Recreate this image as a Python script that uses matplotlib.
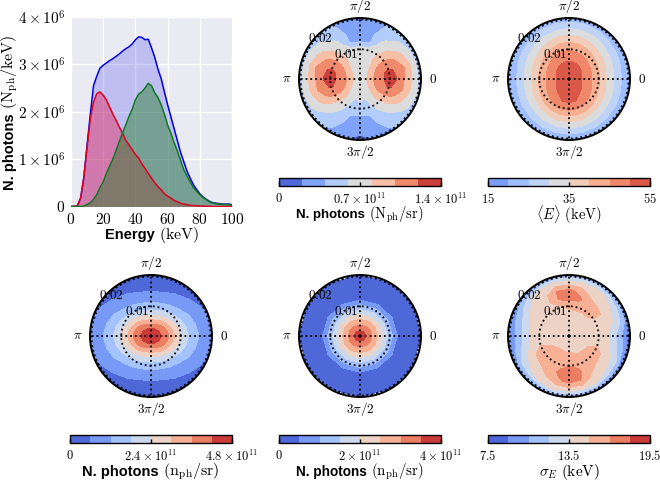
import numpy as np
import matplotlib
matplotlib.use("Agg")
import matplotlib.pyplot as plt

plt.rcParams['mathtext.fontset'] = 'cm'
plt.rcParams['font.family'] = ['Liberation Sans', 'DejaVu Sans']

# ---------- spectrum (units of 1e6 N_ph/keV) ----------
energy = [0,2,4,6,8,10,12,14,16,18,20,22,24,26,28,30,32,34,36,38,40,42,44,46,48,50,52,54,56,58,60,62,64,66,68,70,72,74,76,78,80,82,84,86,88,90,92,94,96,98,100]
total = [0,0,.02,.18,.62,1.3,1.95,2.55,2.75,2.92,2.98,3.03,3.08,3.12,3.17,3.22,3.28,3.33,3.37,3.43,3.52,3.58,3.57,3.52,3.53,3.35,3.15,2.9,2.7,2.42,2.15,1.9,1.65,1.4,1.15,.95,.75,.6,.46,.36,.27,.2,.15,.11,.08,.07,.06,.05,.05,.05,.04]
low = [0,0,.02,.18,.62,1.25,1.85,2.2,2.38,2.42,2.35,2.25,2.1,1.95,1.82,1.68,1.55,1.4,1.3,1.2,1.1,1.02,.9,.8,.7,.6,.5,.42,.35,.27,.22,.18,.13,.1,.07,.05,.04,.025,.02,.015,.01,.01,.005,.005,0,0,0,0,0,0,0]
high = [0,0,0,0,.01,.04,.08,.15,.25,.4,.52,.7,.85,1.0,1.18,1.37,1.55,1.72,1.9,2.05,2.25,2.37,2.42,2.5,2.6,2.55,2.4,2.3,2.15,1.95,1.72,1.55,1.35,1.18,.98,.78,.65,.52,.4,.32,.25,.19,.15,.1,.08,.06,.05,.05,.04,.04,.03]

# ---------- polar maps: radius fractions and band-level values ----------
r_frac = [0,.125,.25,.375,.5,.625,.75,.875,1]
rmax = 0.0205

map_a = [  # every 15 deg
[3.5,4.2,5.2,5.9,6.6,5.9,4.8,3.8,2.5],
[3.5,4.0,5.1,5.9,6.2,5.8,5.0,3.8,2.6],
[3.5,3.9,4.8,5.3,5.5,5.1,4.3,3.5,2.5],
[3.5,3.7,4.2,4.6,4.5,4.1,3.6,3.0,2.4],
[3.5,3.5,3.7,3.8,3.6,3.3,2.8,2.4,2.1],
[3.5,3.4,3.4,3.4,3.4,1.9,1.8,1.6,1.3],
[3.5,3.4,3.4,3.4,3.4,1.8,1.6,1.25,.7],
[3.5,3.4,3.4,3.4,3.4,1.9,1.8,1.6,1.3],
[3.5,3.5,3.7,3.8,3.6,3.3,2.8,2.4,2.1],
[3.5,3.7,4.2,4.6,4.5,4.1,3.6,3.0,2.4],
[3.5,3.9,4.8,5.3,5.5,5.1,4.3,3.5,2.5],
[3.5,4.0,5.1,5.9,6.2,5.8,5.0,3.8,2.6],
[3.5,4.2,5.2,5.9,6.6,5.9,4.8,3.8,2.5],
[3.5,4.0,5.1,5.8,6.1,5.6,4.8,3.7,2.7],
[3.5,3.9,4.8,5.2,5.2,4.8,4.1,3.3,2.5],
[3.5,3.7,4.1,4.4,4.1,3.6,3.1,2.6,2.2],
[3.5,3.5,3.6,3.5,3.2,2.8,2.5,2.1,1.8],
[3.5,3.4,3.2,2.9,2.5,2.0,1.7,1.4,1.1],
[3.5,3.3,3.1,3.0,2.5,1.9,1.5,1.2,.6],
[3.5,3.4,3.2,2.9,2.5,2.0,1.7,1.4,1.1],
[3.5,3.5,3.6,3.5,3.2,2.8,2.5,2.1,1.8],
[3.5,3.7,4.1,4.4,4.1,3.6,3.1,2.6,2.2],
[3.5,3.9,4.8,5.2,5.2,4.8,4.1,3.3,2.5],
[3.5,4.0,5.1,5.8,6.1,5.6,4.8,3.7,2.7],
]
map_b_upper = [  # 0..90 deg every 15
[7.6,7.3,6.87,6.0,5.0,3.9,2.9,1.9,1.1],
[7.6,7.31,6.89,6.04,5.06,3.97,2.96,1.95,1.12],
[7.6,7.33,6.95,6.15,5.2,4.14,3.1,2.08,1.18],
[7.6,7.35,7.03,6.3,5.4,4.38,3.3,2.25,1.25],
[7.6,7.38,7.12,6.45,5.6,4.61,3.5,2.43,1.33],
[7.6,7.39,7.18,6.56,5.74,4.78,3.64,2.55,1.38],
[7.6,7.4,7.2,6.6,5.8,4.85,3.7,2.6,1.4],
]
map_b_lower = [  # 15..90 deg below the horizontal
[7.6,7.31,6.9,6.08,5.08,3.96,2.95,1.93,1.09],
[7.6,7.34,6.98,6.28,5.29,4.11,3.06,2.01,1.05],
[7.6,7.38,7.08,6.55,5.58,4.33,3.22,2.12,1.0],
[7.6,7.41,7.19,6.83,5.86,4.54,3.39,2.24,.95],
[7.6,7.44,7.27,7.02,6.07,4.69,3.5,2.32,.91],
[7.6,7.45,7.3,7.1,6.15,4.75,3.55,2.35,.9],
]
map_c_upper = [  # 0..90 deg every 15
[7.9,7.28,6.42,5.06,3.85,2.91,2.16,1.65,1.19],
[7.9,7.25,6.34,4.91,3.71,2.72,2.01,1.53,1.05],
[7.9,7.2,6.14,4.56,3.35,2.44,1.75,1.22,.84],
[7.9,7.12,5.88,4.15,2.94,2.02,1.45,.95,.62],
[7.9,7.06,5.53,3.8,2.62,1.76,1.15,.74,.4],
[7.9,7.0,5.28,3.57,2.38,1.58,.96,.6,.24],
[7.9,7.0,5.21,3.5,2.32,1.47,.92,.56,.2],
]
map_d = [  # every 30 deg
[8,6.6,5.45,3.9,2.4,.85,.4,.2,.1],
[8,6.6,5.4,3.85,2.3,.75,.35,.2,.1],
[8,6.55,5.35,3.75,2.2,.6,.3,.2,.1],
[8,6.5,5.3,3.7,2.15,.55,.3,.2,.1],
[8,6.55,5.35,3.75,2.2,.6,.3,.2,.1],
[8,6.6,5.4,3.85,2.3,.75,.35,.2,.1],
[8,6.6,5.45,3.9,2.4,.85,.4,.2,.1],
[8,6.6,5.4,3.85,2.3,.75,.35,.2,.1],
[8,6.55,5.35,3.75,2.2,.65,.3,.2,.1],
[8,6.5,5.3,3.7,2.2,.6,.3,.2,.1],
[8,6.55,5.35,3.75,2.2,.65,.3,.2,.1],
[8,6.6,5.4,3.85,2.3,.75,.35,.2,.1],
]
map_e = [  # every 15 deg
[4.5,4.5,4.5,4.5,4.5,4.1,3.2,1.85,.7],
[4.5,4.5,4.5,4.5,4.6,4.4,3.9,2.9,1.2],
[4.5,4.5,4.5,4.6,4.8,4.9,4.3,3.4,1.5],
[4.5,4.5,4.5,4.7,5.4,5.2,4.5,3.9,1.9],
[4.5,4.5,4.5,4.7,5.3,5.6,4.7,4.3,2.0],
[4.5,4.5,4.5,4.7,5.4,6.2,5.7,4.4,2.2],
[4.5,4.5,4.5,4.6,5.4,6.4,6.2,4.5,2.3],
[4.5,4.5,4.5,4.6,4.9,6.1,6.1,4.5,2.2],
[4.5,4.5,4.5,4.5,4.7,5.0,4.8,4.2,2.0],
[4.5,4.5,4.5,4.5,4.5,4.5,4.5,3.8,1.8],
[4.5,4.5,4.5,4.5,4.5,4.4,3.9,2.9,1.4],
[4.5,4.5,4.5,4.5,4.5,4.2,3.3,2.3,1.0],
[4.5,4.5,4.5,4.5,4.5,4.1,3.1,2.1,.7],
[4.5,4.5,4.5,4.5,4.8,4.3,3.4,2.4,1.0],
[4.5,4.5,4.7,5.3,5.6,5.0,4.2,3.2,1.3],
[4.5,4.5,4.9,5.6,5.7,5.1,4.7,3.7,1.5],
[4.5,4.5,5.0,5.6,5.5,5.4,5.0,4.2,1.8],
[4.5,4.5,4.9,5.6,5.8,6.2,5.8,4.5,2.0],
[4.5,4.5,4.9,5.5,6.0,6.4,6.2,4.6,2.1],
[4.5,4.5,4.8,5.4,5.8,6.3,6.0,4.5,2.0],
[4.5,4.5,4.7,5.2,5.4,5.3,4.9,4.2,1.7],
[4.5,4.5,4.6,5.2,5.4,5.0,4.5,3.5,1.0],
[4.5,4.5,4.5,5.1,5.3,4.9,4.2,3.1,1.0],
[4.5,4.5,4.5,4.6,4.8,4.4,3.5,2.4,.8],
]

def mirrored(upper, lower):
    return upper + upper[-2::-1] + lower + lower[-2::-1]

map_b = mirrored(map_b_upper, map_b_lower)
map_c = mirrored(map_c_upper, map_c_upper[1:])
maps = [map_a, map_b, map_c, map_d, map_e]
centers = [(360,79),(569,79),(151,336),(360,336),(569,336)]
bands = [7,8,8,8,8]
cmap_lo = [.07,.2,.0625,.0625,.0625]
cmap_hi = [.93,.89,.9375,.9375,.9375]
vmins = [0,15,0,0,7.5]
vmaxs = [1.4,55,4.8,4,19.5]
tick_texts = [[r"$0$",r"$0.7\times10^{11}$",r"$1.4\times10^{11}$"],
              [r"$15$",r"$35$",r"$55$"],
              [r"$0$",r"$2.4\times10^{11}$",r"$4.8\times10^{11}$"],
              [r"$0$",r"$2\times10^{11}$",r"$4\times10^{11}$"],
              [r"$7.5$",r"$13.5$",r"$19.5$"]]
bar_left = [279,488,70,279,488]
bar_top = [178,178,435,435,435]
label_bold = ["N. photons",None,"N. photons","N. photons",None]
label_math = [r"$(\mathrm{N_{ph}/sr})$",r"$\langle E\rangle\ (\mathrm{keV})$",r"$(\mathrm{n_{ph}/sr})$",r"$(\mathrm{n_{ph}/sr})$",r"$\sigma_E\ (\mathrm{keV})$"]
label_size = [9.5,9.5,10.5,9.8,10]

W,H = 660,482
fig = plt.figure(figsize=(6.6,4.82),dpi=100)

def px_axes(x0,y0,x1,y1,**kw):
    return fig.add_axes([x0/W,1-y1/H,(x1-x0)/W,(y1-y0)/H],**kw)

def mixed_label(xc,yc,bold,math,size,rotation=0):
    rend = fig.canvas.get_renderer()
    t1 = fig.text(0,0,bold,fontsize=size,fontweight='bold',va='center',ha='left',rotation=rotation) if bold else None
    t2 = fig.text(0,0,math,fontsize=size+1,va='center',ha='left',rotation=rotation)
    space = size*0.45 if bold else 0
    if rotation == 0:
        w1 = t1.get_window_extent(rend).width + space if t1 else 0
        w2 = t2.get_window_extent(rend).width
        x = xc-(w1+w2)/2
        if t1: t1.set_position((x/W,1-yc/H))
        t2.set_position(((x+w1)/W,1-yc/H))
    else:
        h1 = t1.get_window_extent(rend).height + space
        h2 = t2.get_window_extent(rend).height
        y = yc+(h1+h2)/2
        t1.set_ha('center'); t2.set_ha('center')
        t1.set_va('bottom'); t2.set_va('bottom')
        t1.set_position((xc/W,1-y/H))
        t2.set_position((xc/W,1-(y-h1)/H))

# ---------- spectrum panel ----------
ax = px_axes(71,17,232,206.5,facecolor='#EAEAF2')
e = np.array(energy)
scale = 1e6
for vals,col,a,lc in [(total,'#2222ee',.22,'#0000dd'),(low,'#ee0033',.36,'#dd0022'),(high,'#117711',.42,'#117722')]:
    v = np.array(vals)*scale
    ax.fill_between(e,0,v,color=col,alpha=a,lw=0)
    ax.plot(e,v,color=lc,lw=1.1)
ax.set_xlim(0,100); ax.set_ylim(0,4e6)
ax.set_xticks([0,20,40,60,80,100])
ax.set_xticklabels([f"${v}$" for v in [0,20,40,60,80,100]],fontsize=11)
ax.set_yticks([0,1e6,2e6,3e6,4e6])
ax.set_yticklabels([r"$0$",r"$1\times10^{6}$",r"$2\times10^{6}$",r"$3\times10^{6}$",r"$4\times10^{6}$"],fontsize=11)
ax.tick_params(length=0,pad=4)
ax.grid(color='white',lw=1)
ax.set_axisbelow(True)
for s in ax.spines.values():
    s.set_visible(False)
mixed_label(152,235,"Energy",r"$(\mathrm{keV})$",10.5)
mixed_label(10,112,"N. photons",r"$(\mathrm{N_{ph}/keV})$",10.5,rotation=90)

# ---------- polar panels ----------
for i,data in enumerate(maps):
    cx,cy = centers[i]
    pax = px_axes(cx-61,cy-61,cx+61,cy+61,projection='polar')
    Z = np.array(data,dtype=float)
    Z = np.vstack([Z,Z[0]])
    th = np.linspace(0,2*np.pi,Z.shape[0])
    rr = np.array(r_frac)*rmax
    T,R = np.meshgrid(th,rr,indexing='ij')
    n = bands[i]
    levels = np.linspace(vmins[i],vmaxs[i],n+1)
    field = vmins[i]+Z*(vmaxs[i]-vmins[i])/n
    cols = plt.get_cmap('coolwarm')(np.linspace(cmap_lo[i],cmap_hi[i],n))
    cf = pax.contourf(T,R,field,levels=levels,colors=[tuple(c) for c in cols])
    pax.set_ylim(0,rmax)
    pax.set_xticks(np.deg2rad([0,90,180,270]))
    pax.set_xticklabels([r"$0$",r"$\pi/2$",r"$\pi$",r"$3\pi/2$"],fontsize=9.5)
    pax.tick_params(axis='x',pad=1.5,length=0)
    pax.set_yticks([.01,.02]); pax.set_yticklabels([])
    pax.grid(color='black',ls=':',lw=1.3)
    pax.set_axisbelow(False)
    pax.spines['polar'].set_linewidth(1.4)
    pax.text(np.deg2rad(120),.0094,"$0.01$",fontsize=9.5,ha='center',va='center',zorder=5)
    pax.text(np.deg2rad(134),.0191,"$0.02$",fontsize=9.5,ha='center',va='center',zorder=5)

    bx = bar_left[i]; by = bar_top[i]
    cax = px_axes(bx,by,bx+162,by+8)
    cb = fig.colorbar(cf,cax=cax,orientation='horizontal')
    cb.set_ticks([vmins[i],(vmins[i]+vmaxs[i])/2,vmaxs[i]])
    cb.set_ticklabels(tick_texts[i],fontsize=9)
    cb.ax.tick_params(direction='in',length=3,width=1,color='black',pad=4)
    cb.outline.set_linewidth(1)
    cb.ax.minorticks_off()
    mixed_label(bx+81,by+37,label_bold[i],label_math[i],label_size[i])

fig.savefig("out.png",dpi=100)
